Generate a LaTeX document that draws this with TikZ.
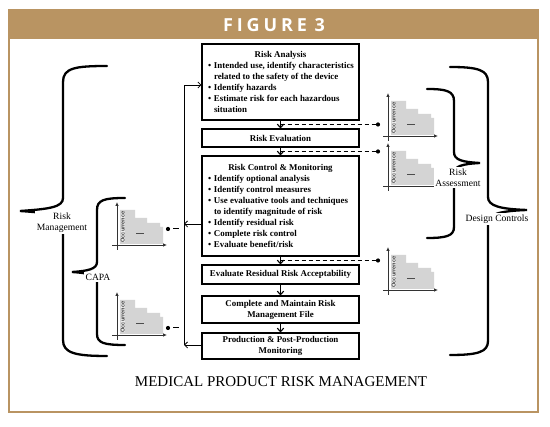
\documentclass[tikz,border=0pt]{standalone}
\usepackage{fontspec}
\setmainfont{Liberation Serif}
\newfontfamily\chartfont{Liberation Sans}
\newfontfamily\headfont{Open Sans}
\usetikzlibrary{arrows.meta}
\definecolor{figtan}{RGB}{185,148,98}
\newcommand\bi{\hspace*{2.5pt}\makebox[6pt][l]{\textbullet}}
\newcommand\ci{\hspace*{8.5pt}}
\tikzset{
  boxn/.style={draw, line width=1.1pt, inner xsep=3.5pt, inner ysep=0pt,
    minimum width=157pt, font=\fontsize{8.9}{10.9}\selectfont\bfseries},
  flow/.style={line width=1.1pt, -{Straight Barb[length=3.5pt,width=6.5pt]}},
  fb/.style={line width=0.8pt, -{Straight Barb[length=3pt,width=6pt]}},
  fbline/.style={line width=0.8pt},
  dashl/.style={line width=1pt, dash pattern=on 4pt off 3pt},
  dotn/.style={circle, fill=black, inner sep=0pt, minimum size=4.2pt},
  bracep/.style={line width=2.3pt, line cap=round},
  blabel/.style={fill=white, inner sep=1.5pt, align=center, font=\fontsize{9.6}{11}\selectfont},
  axisl/.style={black!80, line width=0.9pt, -{Latex[length=4pt,width=3.6pt]}},
  occchart/.pic={
    \fill[gray!34] (3,-1) -- (3,-35) -- (18,-35) -- (18,-27) -- (30,-27) -- (30,-22)
      -- (43,-22) -- (43,-18) -- (46,-18) -- (46,-1) -- cycle;
    \fill[gray!16] (3.5,-3) rectangle (8,-33);
    \node[rotate=90, inner sep=0pt, text=gray!50!black,
      font=\chartfont\fontsize{5.6}{6}\selectfont\bfseries] (-occ) at (5.8,-18) {Occurrence};
    \draw[gray!60!black, line width=0.9pt] (19,-12) -- (27,-12);
    \draw[axisl] (0,5) -- (0,-43);
    \draw[axisl] (-5,0) -- (50,0);
  }
}
\begin{document}
\begin{tikzpicture}[x=1pt,y=-1pt]
\useasboundingbox (0,0) rectangle (550,427);
\fill[white] (0,0) rectangle (550,427);
% frame and title band
\fill[figtan] (9,10) rectangle (538,39);
\draw[figtan, line width=2pt] (9,10) rectangle (538,412);
\node[text=white, inner sep=0pt, font=\headfont\fontsize{18}{22}\selectfont\bfseries] (title) at (274,25.5)
  {\makebox[102pt][s]{F\hfill I\hfill G\hfill U\hfill R\hfill E\hfill\hfill 3}};

% central boxes
\node[boxn, minimum height=76pt] (RA) at (280.5,82) {\parbox{150pt}{\centering Risk Analysis\par\raggedright
  \bi Intended use, identify characteristics\\
  \ci related to the safety of the device\\
  \bi Identify hazards\\
  \bi Estimate risk for each hazardous\\
  \ci situation}};
\node[boxn, minimum height=18pt] (RE) at (280.5,138) {\parbox{150pt}{\centering Risk Evaluation}};
\node[boxn, minimum height=100pt] (RC) at (280.5,206) {\parbox{150pt}{\centering Risk Control \& Monitoring\par\raggedright
  \bi Identify optional analysis\\
  \bi Identify control measures\\
  \bi Use evaluative tools and techniques\\
  \ci to identify magnitude of risk\\
  \bi Identify residual risk\\
  \bi Complete risk control\\
  \bi Evaluate benefit/risk}};
\node[boxn, minimum height=19pt] (ER) at (280.5,274.5) {\parbox{150pt}{\centering Evaluate Residual Risk Acceptability}};
\node[boxn, minimum height=27pt] (CM) at (280.5,309.5) {\parbox{150pt}{\centering Complete and Maintain Risk\\Management File}};
\node[boxn, minimum height=26pt] (PP) at (280.5,346) {\parbox{150pt}{\centering Production \& Post-Production\\Monitoring}};

% flow arrows
\draw[flow] (RA.south) -- coordinate[midway] (m1) (RE.north);
\draw[flow] (RE.south) -- coordinate[midway] (m2) (RC.north);
\draw[flow] (RC.south) -- coordinate[midway] (m3) (ER.north);
\draw[flow] (ER.south) -- (CM.north);
\draw[flow] (CM.south) -- (PP.north);

% feedback loop
\coordinate (lt) at (184,85);
\coordinate (lm) at (184,224);
\coordinate (lb) at (184,345);
\draw[fbline] (lb) -- (lt);
\draw[fb] (lt) -- (RA.west |- lt);
\draw[fb] (RC.west |- lm) -- (lm);
\draw[fb] (PP.west |- lb) -- (lb);

% charts
\pic (cL1) at (117,245) {occchart};
\pic (cL2) at (117,335) {occchart};
\pic (cR1) at (388,136) {occchart};
\pic (cR2) at (388,186) {occchart};
\pic (cR3) at (388,290) {occchart};

% dots and dashed links
\node[dotn] (d1) at (378,124.5) {};
\node[dotn] (d2) at (378,151.5) {};
\node[dotn] (d3) at (378,260.5) {};
\draw[dashl] (m1) -- (d1);
\draw[dashl] (m2) -- (d2);
\draw[dashl] (m3) -- (d3);
\node[dotn] (d4) at (168,229) {};
\node[dotn] (d5) at (168,328) {};
\coordinate (e4) at (179,229);
\coordinate (e5) at (179,328);
\draw[line width=1pt, shorten <=3pt] (d4) -- (e4);
\draw[line width=1pt, shorten <=3pt] (d5) -- (e5);

% braces
\draw[bracep] (107,66) .. controls (75,66) and (63,68) .. (63,82) -- (63,198)
  .. controls (63,207) and (50,209) .. (20,211) .. controls (50,213) and (63,215) .. (63,224)
  -- (63,340) .. controls (63,353) and (75,356) .. (107,356);
\draw[bracep] (125,198) .. controls (104,198) and (97,200) .. (97,210) -- (97,262)
  .. controls (97,269) and (88,271) .. (72,272) .. controls (88,273) and (97,275) .. (97,282)
  -- (97,334) .. controls (97,343) and (104,345) .. (125,345);
\draw[bracep] (427,89) .. controls (446,89) and (454,91) .. (454,101) -- (454,152)
  .. controls (454,160) and (462,162) .. (480,163) .. controls (462,164) and (454,166) .. (454,174)
  -- (454,227) .. controls (454,236) and (446,238) .. (427,238);
\draw[bracep] (450,67) .. controls (478,67) and (488,70) .. (488,82) -- (488,197)
  .. controls (488,206) and (500,209) .. (527,210) .. controls (500,211) and (488,214) .. (488,223)
  -- (488,341) .. controls (488,352) and (478,355) .. (450,355);

% brace labels
\node[blabel] (lRM) at (62,222.5) {Risk\\Management};
\node[blabel] (lCAPA) at (98,277) {CAPA};
\node[blabel] (lRAs) at (458,177.5) {Risk\\Assessment};
\node[blabel] (lDC) at (497,219) {Design Controls};

% caption
\node[inner sep=0pt, font=\fontsize{15}{17}\selectfont] (cap) at (281,382) {MEDICAL PRODUCT RISK MANAGEMENT};
\end{tikzpicture}
\end{document}
